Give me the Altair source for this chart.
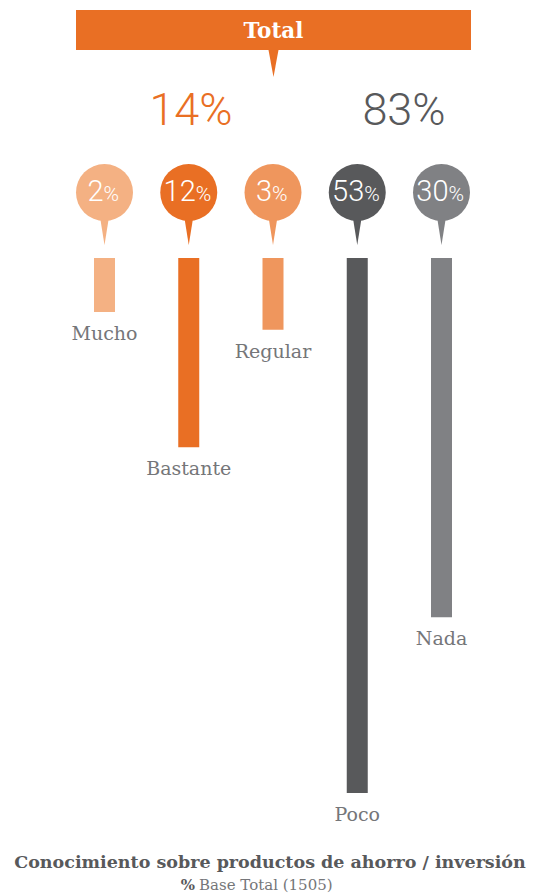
import altair as alt
import pandas as pd

# ---- data ----
categories = ["Mucho", "Bastante", "Regular", "Poco", "Nada"]
values = [2, 12, 3, 53, 30]
bar_colors = ["#F4B183", "#E96F24", "#EF965D", "#58595B", "#808184"]
group_labels = ["14%", "83%"]
group_colors = ["#E96F24", "#58595B"]
header_text = ["Total"]
title_text = ["Conocimiento sobre productos de ahorro / inversión"]
subtitle_bold = ["%"]
subtitle_text = ["Base Total (1505)"]

df = pd.DataFrame({"cat": categories, "pct": values})
df["num"] = df["pct"].astype(str)
df["digits"] = df["num"].str.len()

one = pd.DataFrame({"k": [0]})

X = alt.X("cat:N", scale=alt.Scale(type="point", domain=categories, range=[96.5, 433.5], padding=0), axis=None)
Y = alt.Y("pct:Q", scale=alt.Scale(type="pow", exponent=0.7, domain=[0, 53], range=[250, 785]), axis=None)
C = alt.Color("cat:N", scale=alt.Scale(domain=categories, range=bar_colors), legend=None)

base = alt.Chart(df)

bars = base.mark_bar(size=21).encode(x=X, y=Y, y2=alt.datum(0), color=C)

labels = base.mark_text(dy=28, baseline="alphabetic", fontSize=19, font="DejaVu Serif",
                        color="#757679").encode(x=X, y=Y, text="cat:N")

pins = base.mark_circle(size=3249, opacity=1).encode(x=X, y=alt.value(184.5), color=C)
tails = base.mark_point(shape="M-0.32,-1L0.32,-1L0,1Z", filled=True, size=676, opacity=1,
                        strokeWidth=0).encode(x=X, y=alt.value(224), color=C)

def pin_text(ndig, dx):
    sub = base.transform_filter(f"datum.digits == {ndig}")
    n = sub.mark_text(align="right", baseline="alphabetic", dx=dx, fontSize=29, font="Roboto",
                      fontWeight=300, color="white").encode(x=X, y=alt.value(193), text="num:N")
    p = sub.mark_text(align="left", baseline="alphabetic", dx=dx, fontSize=21, font="Roboto",
                      fontWeight=300, color="white").encode(x=X, y=alt.value(193), text=alt.value("%"))
    return n + p

g1 = alt.Chart(pd.DataFrame({"t": [group_labels[0]]})).mark_text(
    fontSize=45, font="Roboto", fontWeight=300, color=group_colors[0], baseline="alphabetic"
).encode(x=alt.value(183), y=alt.value(117), text="t:N")
g2 = alt.Chart(pd.DataFrame({"t": [group_labels[1]]})).mark_text(
    fontSize=45, font="Roboto", fontWeight=300, color=group_colors[1], baseline="alphabetic"
).encode(x=alt.value(396), y=alt.value(117), text="t:N")

header = alt.Chart(one).mark_rect(color="#E96F24").encode(
    x=alt.value(68), x2=alt.value(463), y=alt.value(2), y2=alt.value(42))
header_tail = alt.Chart(one).mark_point(shape="M-0.37,-1L0.37,-1L0,1Z", filled=True, size=784,
                                        opacity=1, strokeWidth=0, color="#E96F24").encode(
    x=alt.value(265.5), y=alt.value(55))
header_lbl = alt.Chart(pd.DataFrame({"t": header_text})).mark_text(
    font="DejaVu Serif", fontWeight="bold", fontSize=21.5, color="white", baseline="alphabetic"
).encode(x=alt.value(265.5), y=alt.value(30), text="t:N")

title = alt.Chart(pd.DataFrame({"t": title_text})).mark_text(
    font="DejaVu Serif", fontWeight="bold", fontSize=17.5, color="#58595B", baseline="alphabetic"
).encode(x=alt.value(262), y=alt.value(860), text="t:N")
sub1 = alt.Chart(pd.DataFrame({"t": subtitle_bold})).mark_text(
    font="DejaVu Serif", fontWeight="bold", fontSize=15, color="#58595B", baseline="alphabetic",
    align="right").encode(x=alt.value(187), y=alt.value(882), text="t:N")
sub2 = alt.Chart(pd.DataFrame({"t": subtitle_text})).mark_text(
    font="DejaVu Serif", fontSize=15, color="#757679", baseline="alphabetic",
    align="left").encode(x=alt.value(191), y=alt.value(882), text="t:N")

chart = alt.layer(
    header, header_tail, header_lbl, g1, g2,
    tails, pins, pin_text(1, -1), pin_text(2, 7),
    bars, labels, title, sub1, sub2
).properties(
    width=518, height=887, autosize=alt.AutoSizeParams(type="none"), padding=0
).configure_view(stroke=None)

chart.save("out.html", embed_options={"renderer": "svg", "actions": False})
